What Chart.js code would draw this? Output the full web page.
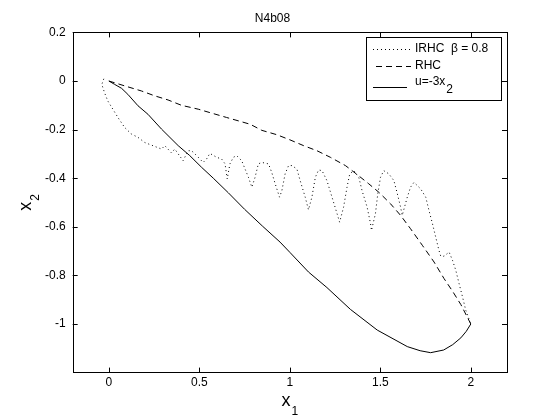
<!DOCTYPE html>
<html>
<head>
<meta charset="utf-8">
<title>N4b08</title>
<script src="https://cdn.jsdelivr.net/npm/chart.js@4.4.1/dist/chart.umd.min.js"></script>
<style>
  html, body { margin: 0; padding: 0; background: #fff; }
  #wrap { width: 560px; height: 420px; }
</style>
</head>
<body>
<div id="wrap"><canvas id="chart" width="560" height="420"></canvas></div>
<script>
// tick labels
const xTicks = [0, 0.5, 1, 1.5, 2];
const yTicks = [0.2, 0, -0.2, -0.4, -0.6, -0.8, -1];

// IRHC beta = 0.8 (dotted)
const irhcX = [-0.028, -0.039, -0.024, -0.006, 0.022, 0.05, 0.087, 0.124, 0.161, 0.198, 0.253, 0.291, 0.309, 0.346, 0.364, 0.41, 0.438,
  0.457, 0.485, 0.521, 0.54, 0.558, 0.596, 0.623, 0.642, 0.654, 0.669, 0.688, 0.706, 0.734, 0.771, 0.79, 0.808, 0.826, 0.845,
  0.882, 0.9, 0.919, 0.943, 0.956, 0.974, 0.993, 1.011, 1.039, 1.057, 1.085, 1.103, 1.122, 1.141, 1.159, 1.178, 1.205, 1.233,
  1.261, 1.275, 1.297, 1.316, 1.331, 1.353, 1.381, 1.399, 1.427, 1.446, 1.451, 1.473, 1.486, 1.501, 1.519, 1.547, 1.575, 1.594,
  1.612, 1.621, 1.649, 1.667, 1.686, 1.723, 1.751, 1.769, 1.788, 1.806, 1.824, 1.834, 1.852, 1.88, 1.899, 1.917, 1.935, 1.954,
  1.972, 2.0];
const irhcY = [0.009, -0.014, -0.048, -0.082, -0.116, -0.15, -0.191, -0.218, -0.232, -0.253, -0.269, -0.28, -0.266, -0.296, -0.28, -0.328, -0.287,
  -0.287, -0.307, -0.335, -0.321, -0.298, -0.314, -0.321, -0.341, -0.403, -0.341, -0.314, -0.307, -0.328, -0.396, -0.437, -0.396, -0.341, -0.335,
  -0.341, -0.376, -0.423, -0.478, -0.451, -0.382, -0.348, -0.348, -0.362, -0.41, -0.478, -0.53, -0.478, -0.396, -0.366, -0.369, -0.41, -0.478,
  -0.546, -0.581, -0.519, -0.437, -0.382, -0.369, -0.396, -0.451, -0.519, -0.587, -0.615, -0.546, -0.464, -0.396, -0.369, -0.382, -0.41, -0.464,
  -0.519, -0.553, -0.478, -0.437, -0.417, -0.444, -0.478, -0.533, -0.587, -0.642, -0.697, -0.721, -0.721, -0.704, -0.738, -0.779, -0.833, -0.888,
  -0.943, -1.0];

// RHC (dashed)
const rhcX = [0, 0.087, 0.18, 0.253, 0.327, 0.401, 0.494, 0.558, 0.65, 0.781, 0.845, 0.928, 1.0, 1.076, 1.15, 1.224, 1.307, 1.372,
  1.436, 1.492, 1.556, 1.612, 1.667, 1.732, 1.797, 1.852, 1.899, 1.945, 2.0];
const rhcY = [0, -0.02, -0.041, -0.061, -0.078, -0.1, -0.116, -0.13, -0.15, -0.178, -0.203, -0.221, -0.242, -0.266, -0.287, -0.314, -0.348, -0.385,
  -0.423, -0.458, -0.505, -0.553, -0.608, -0.676, -0.745, -0.813, -0.865, -0.92, -1.0];

// u = -3 x2 (solid)
const lqrX = [0, 0.032, 0.07, 0.105, 0.161, 0.216, 0.291, 0.383, 0.447, 0.512, 0.577, 0.66, 0.75, 0.85, 0.946, 1.0, 1.103, 1.205,
  1.335, 1.483, 1.649, 1.72, 1.778, 1.85, 1.9, 1.945, 1.975, 2.0];
const lqrY = [0, -0.014, -0.03, -0.055, -0.102, -0.137, -0.198, -0.266, -0.307, -0.355, -0.4, -0.46, -0.528, -0.598, -0.663, -0.705, -0.786, -0.85,
  -0.94, -1.025, -1.093, -1.11, -1.118, -1.107, -1.085, -1.057, -1.03, -1.0];

const FONT = "'Liberation Sans', Arial, Helvetica, sans-serif";

function toPoints(xs, ys) {
    return xs.map((x, i) => ({ x: x, y: ys[i] }));
}

// draws text like x_1 : base glyph plus a lowered smaller subscript
function drawSubText(ctx, base, sub, x, y, bigSize, smallSize, drop) {
    ctx.font = bigSize + 'px ' + FONT;
    const wBase = ctx.measureText(base).width;
    ctx.font = smallSize + 'px ' + FONT;
    const wSub = ctx.measureText(sub).width;
    const start = x - (wBase + 1 + wSub) / 2;
    ctx.textAlign = 'left';
    ctx.textBaseline = 'alphabetic';
    ctx.font = bigSize + 'px ' + FONT;
    ctx.fillText(base, start, y);
    ctx.font = smallSize + 'px ' + FONT;
    ctx.fillText(sub, start + wBase + 1, y + drop);
}

// box, inward ticks, axis labels and legend in the matlab way
const matlabFrame = {
    id: 'matlabFrame',
    afterDraw(chart) {
        const ctx = chart.ctx;
        const area = chart.chartArea;
        const xs = chart.scales.x;
        const ys = chart.scales.y;
        const tl = 5;

        ctx.save();
        ctx.strokeStyle = '#000';
        ctx.lineWidth = 1;
        ctx.setLineDash([]);
        ctx.strokeRect(Math.round(area.left) + 0.5, Math.round(area.top) + 0.5,
            Math.round(area.right - area.left), Math.round(area.bottom - area.top));

        ctx.beginPath();
        xTicks.forEach(v => {
            const px = Math.round(xs.getPixelForValue(v)) + 0.5;
            ctx.moveTo(px, area.bottom);
            ctx.lineTo(px, area.bottom - tl);
            ctx.moveTo(px, area.top);
            ctx.lineTo(px, area.top + tl);
        });
        yTicks.forEach(v => {
            const py = Math.round(ys.getPixelForValue(v)) + 0.5;
            ctx.moveTo(area.left, py);
            ctx.lineTo(area.left + tl, py);
            ctx.moveTo(area.right, py);
            ctx.lineTo(area.right - tl, py);
        });
        ctx.stroke();

        // axis titles
        ctx.fillStyle = '#000';
        const cx = (area.left + area.right) / 2;
        drawSubText(ctx, 'x', '1', cx, 406, 18, 12, 9);
        ctx.save();
        ctx.translate(31, (area.top + area.bottom) / 2);
        ctx.rotate(-Math.PI / 2);
        drawSubText(ctx, 'x', '2', 0, 0, 18, 12, 8);
        ctx.restore();

        // legend
        const bx = Math.round(area.right) - 140.5;
        const by = Math.round(area.top) + 5.5;
        const bw = 135, bh = 63;
        ctx.fillStyle = '#fff';
        ctx.fillRect(bx, by, bw, bh);
        ctx.strokeRect(bx, by, bw, bh);

        const rows = [
            { ds: 0, text: 'IRHC  \u03b2 = 0.8', ty: 49, ly: 49.5, x0: 373, x1: 411 },
            { ds: 1, text: 'RHC', ty: 66, ly: 66.5, x0: 376, x1: 411 },
            { ds: 2, text: 'u=-3x', ty: 82, ly: 87.5, x0: 373, x1: 407 }
        ];
        rows.forEach(r => {
            const d = chart.data.datasets[r.ds];
            ctx.strokeStyle = d.borderColor;
            ctx.lineWidth = d.borderWidth;
            ctx.setLineDash(d.borderDash || []);
            ctx.beginPath();
            ctx.moveTo(r.x0, r.ly);
            ctx.lineTo(r.x1, r.ly);
            ctx.stroke();
            ctx.setLineDash([]);
            ctx.fillStyle = '#000';
            ctx.font = '12px ' + FONT;
            ctx.textAlign = 'left';
            ctx.textBaseline = 'middle';
            ctx.fillText(r.text, 415, r.ty);
        });
        ctx.font = '12px ' + FONT;
        const w = ctx.measureText('u=-3x').width;
        ctx.fillText('2', 415 + w + 1, 90);
        ctx.restore();
    }
};

function initializeChart() {
    Chart.defaults.font.family = FONT;
    Chart.defaults.font.size = 12;
    Chart.defaults.color = '#000';

    const ctx = document.getElementById('chart').getContext('2d');
    new Chart(ctx, {
        type: 'scatter',
        data: {
            datasets: [{
                label: 'IRHC \u03b2 = 0.8',
                data: toPoints(irhcX, irhcY),
                showLine: true,
                borderColor: '#000',
                borderWidth: 1,
                borderDash: [1, 3],
                pointRadius: 0,
                tension: 0
            }, {
                label: 'RHC',
                data: toPoints(rhcX, rhcY),
                showLine: true,
                borderColor: '#000',
                borderWidth: 1,
                borderDash: [6, 4],
                pointRadius: 0,
                tension: 0
            }, {
                label: 'u=-3x2',
                data: toPoints(lqrX, lqrY),
                showLine: true,
                borderColor: '#000',
                borderWidth: 1,
                pointRadius: 0,
                tension: 0
            }]
        },
        options: {
            responsive: false,
            animation: false,
            layout: {
                padding: { left: 38, right: 53, top: 0, bottom: 27 }
            },
            scales: {
                x: {
                    type: 'linear',
                    min: -0.2,
                    max: 2.2,
                    afterBuildTicks: scale => { scale.ticks = xTicks.map(v => ({ value: v })); },
                    ticks: { padding: 3, maxRotation: 0, callback: v => String(v) },
                    grid: { display: false, drawTicks: false },
                    border: { display: false }
                },
                y: {
                    type: 'linear',
                    min: -1.2,
                    max: 0.2,
                    afterBuildTicks: scale => { scale.ticks = yTicks.map(v => ({ value: v })); },
                    ticks: { padding: 7, callback: v => String(v) },
                    grid: { display: false, drawTicks: false },
                    border: { display: false }
                }
            },
            plugins: {
                legend: { display: false },
                tooltip: { enabled: false },
                title: {
                    display: true,
                    text: 'N4b08',
                    font: { size: 12, weight: 'normal' },
                    padding: { top: 11, bottom: 7 }
                }
            }
        },
        plugins: [matlabFrame]
    });
}

document.addEventListener('DOMContentLoaded', initializeChart);
</script>
</body>
</html>
